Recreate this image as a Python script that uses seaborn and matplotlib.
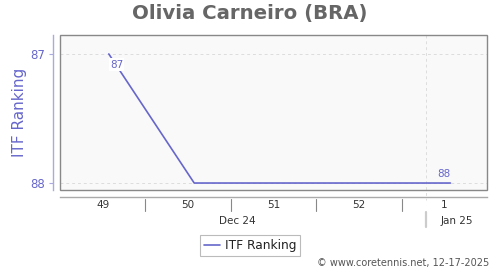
import matplotlib
matplotlib.use("Agg")
import matplotlib.pyplot as plt
import matplotlib.dates as mdates
import matplotlib.transforms as mtransforms
import seaborn as sns
import pandas as pd
import numpy as np

# Data
dates = ["2024-12-06", "2024-12-13", "2024-12-20", "2024-12-27", "2025-01-03"]
ranks = [87, 88, 88, 88, 88]
week_labels = ["49", "50", "51", "52", "1"]
week_starts = ["2024-12-02", "2024-12-09", "2024-12-16", "2024-12-23", "2024-12-30"]
month_labels = ["Dec 24", "Jan 25"]
month_centers = ["2024-12-16 12:00", "2025-01-03 12:00"]
month_boundary = "2025-01-01"
x_range = ["2024-12-02", "2025-01-06"]
title = "Olivia Carneiro (BRA)"
series_name = "ITF Ranking"

sns.set_theme(style="white")
plt.rcParams['font.family'] = ['DejaVu Sans']

df = pd.DataFrame({"date": pd.to_datetime(dates), "rank": ranks, "series": series_name})

fig = plt.figure(figsize=(5, 2.7), dpi=100)
H = 155.0
W = 427.0
ax = fig.add_axes([0.12, 1 - 190 / 270, W / 500, H / 270])
ax.set_facecolor("#f9f9f9")

line_color = "#6666cc"
sns.lineplot(data=df, x="date", y="rank", hue="series", palette=[line_color],
             ax=ax, linewidth=1.2, legend=True)

ax.set_xlim(mdates.date2num(pd.Timestamp(x_range[0])), mdates.date2num(pd.Timestamp(x_range[1])))
ax.set_ylim(88.054, 86.853)

# grid
ax.set_yticks([87, 88])
ax.set_yticklabels(["87", "88"])
ax.tick_params(axis="y", length=3, width=0.8, color="#aaaadd", pad=3, left=True,
               labelcolor=line_color, labelsize=8.5)
for yv in [87, 88]:
    ax.axhline(yv, color="#dddddd", linestyle=(0, (3, 3)), linewidth=0.7, zorder=0)
bnum = mdates.date2num(pd.Timestamp(month_boundary))
trans = mtransforms.blended_transform_factory(ax.transData, ax.transAxes)
ax.plot([bnum, bnum], [1, -10 / H], transform=trans, color="#dddddd",
        linestyle=(0, (3, 3)), linewidth=0.7, zorder=0, clip_on=False)

# frame
for s in ["top", "right"]:
    ax.spines[s].set_visible(False)
ax.spines["left"].set_position(("outward", 5))
ax.spines["left"].set_color("#aaaadd")
ax.spines["left"].set_linewidth(1)
ax.spines["bottom"].set_position(("outward", 5))
ax.spines["bottom"].set_color("#aaaaaa")
ax.spines["bottom"].set_linewidth(1)
rect = plt.Rectangle((0, 0), 1, 1, transform=ax.transAxes, fill=False,
                     edgecolor="#888888", linewidth=1, zorder=5, clip_on=False)
ax.add_patch(rect)

# x ticks: week labels centered on weeks
centers = [mdates.date2num(pd.Timestamp(w)) + 3.5 for w in week_starts]
ax.set_xticks(centers)
ax.set_xticklabels(week_labels)
ax.tick_params(axis="x", length=0, pad=2, bottom=False, labelsize=7.5, labelcolor="#333333")
ax.set_xlabel("")

for w in week_starts[1:]:
    xv = mdates.date2num(pd.Timestamp(w))
    ax.plot([xv, xv], [-9 / H, -21 / H], transform=trans, color="#888888",
            linewidth=0.8, clip_on=False)
ax.plot([bnum, bnum], [-22 / H, -37 / H], transform=trans, color="#cccccc",
        linewidth=1.6, clip_on=False)
for lab, c in zip(month_labels, month_centers):
    ax.text(mdates.date2num(pd.Timestamp(c)), -31 / H, lab, transform=trans,
            ha="center", va="center", fontsize=7.5, color="#333333")

# data labels
ax.annotate(str(ranks[0]), (mdates.date2num(df["date"].iloc[0]), ranks[0]),
            xytext=(1, -4), textcoords="offset points", ha="left", va="top",
            fontsize=7.5, color=line_color,
            bbox=dict(boxstyle="square,pad=0.1", fc="white", ec="none"), zorder=6)
ax.annotate(str(ranks[-1]), (mdates.date2num(df["date"].iloc[-1]), ranks[-1]),
            xytext=(0, 3), textcoords="offset points", ha="right", va="bottom",
            fontsize=7.5, color=line_color, zorder=6)

ax.set_ylabel(series_name, color=line_color, fontsize=11)
ax.yaxis.set_label_coords(-33 / W, 0.5)

# title
fig.text(0.5, 1 - 13 / 270, title, ha="center", va="center", fontsize=14.2,
         fontweight="bold", color="#666666")

# legend
leg = ax.legend(loc="center", bbox_to_anchor=(0.5, 1 - 245.5 / 270),
                bbox_transform=fig.transFigure, frameon=True, fontsize=8.8,
                handlelength=1.3, handletextpad=0.4, borderpad=0.3, fancybox=False,
                borderaxespad=0)
leg.get_frame().set_edgecolor("#aaaaaa")
leg.get_frame().set_linewidth(0.8)
for t in leg.get_texts():
    t.set_color("#222222")

fig.text(489 / 500, 1 - 263 / 270, "© www.coretennis.net, 12-17-2025", ha="right",
         va="center", fontsize=7, color="#555555")

fig.savefig("out.png", dpi=100)
